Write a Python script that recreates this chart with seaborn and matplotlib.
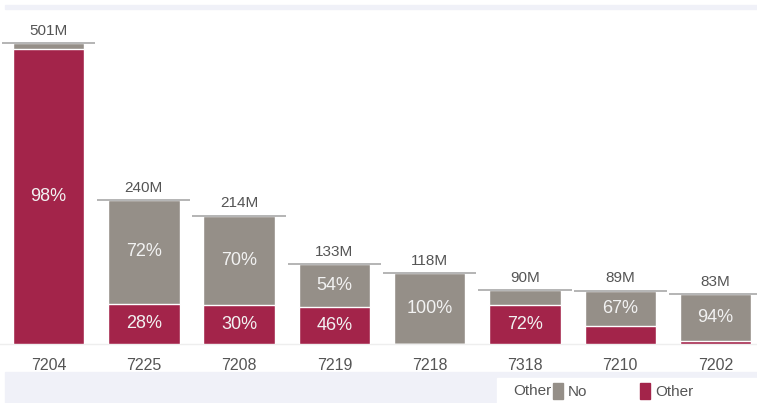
import matplotlib
matplotlib.use('Agg')
import matplotlib.pyplot as plt
from matplotlib.patches import Patch, Rectangle
import numpy as np
import pandas as pd
import seaborn as sns

# values
categories = ['7204', '7225', '7208', '7219', '7218', '7318', '7210', '7202']
totals = [501, 240, 214, 133, 118, 90, 89, 83]  # millions
other_pct = [98, 28, 30, 46, 0, 72, 33, 6]
no_pct = [2, 72, 70, 54, 100, 28, 67, 94]

red = '#a3244a'
grey = '#958f88'
text_grey = '#555555'

sns.set_theme(style='white')
plt.rcParams['font.family'] = ['Liberation Sans', 'DejaVu Sans']

df = pd.DataFrame({'category': categories, 'total': totals,
                   'other_pct': other_pct, 'no_pct': no_pct})
df['other'] = df['total'] * df['other_pct'] / 100
df['no'] = df['total'] * df['no_pct'] / 100

fig = plt.figure(figsize=(7.57, 4.03), dpi=100)
W, H = 757, 403

# background bands
fig.patches.append(Rectangle((5 / W, (H - 9) / H), 1, 4 / H, transform=fig.transFigure,
                             color='#f0f1f8', zorder=0))
fig.patches.append(Rectangle((5 / W, 0), 1, 31 / H, transform=fig.transFigure,
                             color='#f0f1f8', zorder=0))
fig.patches.append(Rectangle((497 / W, 0), 1, 25 / H, transform=fig.transFigure,
                             color='white', zorder=0))

ax = fig.add_axes([0, (H - 344) / H, 1, 334 / H])
ax.patch.set_alpha(0)

# grey = whole bar ("No" on top), red drawn over it from the base ("Other")
sns.barplot(data=df, x='category', y='total', color=grey, width=0.75,
            saturation=1, ax=ax, zorder=2)
sns.barplot(data=df, x='category', y='other', color=red, width=0.75,
            saturation=1, ax=ax, zorder=3)

ax.set_xlim(-0.509, 7.435)
ax.set_ylim(0, 334 / 0.6)

# total lines and labels
ax.hlines(df['total'], np.arange(len(df)) - 0.49, np.arange(len(df)) + 0.49,
          color='#a8a8a8', lw=1.2, zorder=4)
for i, row in df.iterrows():
    ax.text(i, row['total'] + 9, '%dM' % row['total'], ha='center', va='bottom',
            fontsize=11, color=text_grey)
    # only label segments that are tall enough
    if row['other'] >= 30:
        ax.text(i, row['other'] / 2, '%d%%' % row['other_pct'], ha='center', va='center',
                fontsize=13, color='#f2f2f2', zorder=5)
    if row['no'] >= 30:
        ax.text(i, row['other'] + row['no'] / 2, '%d%%' % row['no_pct'], ha='center',
                va='center', fontsize=13, color='#f2f2f2', zorder=5)

for s in ['top', 'right', 'left']:
    ax.spines[s].set_visible(False)
ax.spines['bottom'].set_color('#eeeeee')
ax.spines['bottom'].set_linewidth(1)
ax.set_yticks([])
ax.set_xlabel('')
ax.set_ylabel('')
ax.set_xticks(np.arange(len(df)))
ax.set_xticklabels(categories)
ax.tick_params(axis='x', which='major', length=0, pad=10, labelsize=11.5, labelcolor=text_grey)
ax.set_xticks(np.arange(len(df) - 1) + 0.5, minor=True)
ax.tick_params(axis='x', which='minor', length=5, width=1, color='#eeeeee', direction='out')

# legend
fig.text(551 / W, 12 / H, 'Other', fontsize=11, color=text_grey, va='center', ha='right')
fig.legend(handles=[Patch(color=grey, label='No'), Patch(color=red, label='Other')],
           loc='center left', bbox_to_anchor=(553 / W, 12 / H), ncol=2, frameon=False,
           fontsize=11, handlelength=0.65, handleheight=1.2, handletextpad=0.3,
           columnspacing=3.5, labelcolor=text_grey, borderpad=0, borderaxespad=0)

fig.savefig('out.png', dpi=100)
